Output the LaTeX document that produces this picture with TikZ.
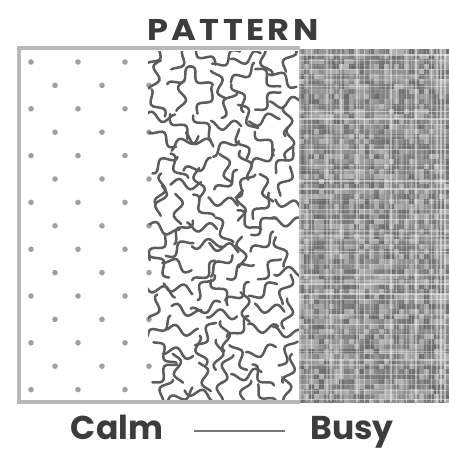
\documentclass[tikz,border=0pt]{standalone}
\usepackage{fontspec}
\setmainfont{Poppins}
\usepackage{tikz}
\usetikzlibrary{positioning,calc}
\usepackage{xcolor}
\definecolor{ink}{HTML}{3C3C3C}
\definecolor{framegray}{HTML}{B8B8B8}
\definecolor{spotgray}{HTML}{A0A0A0}
\definecolor{wormgray}{HTML}{5C5C5C}

\begin{document}
\begin{tikzpicture}[
    x=1pt, y=-1pt,
    frame/.style={draw=framegray, line width=3.5pt},
    spot/.style={fill=spotgray},
    worm/.style={draw=wormgray, line width=2.5pt, line cap=round, line join=round},
    label/.style={text=ink, inner sep=0pt, anchor=base, text height=23pt, text depth=6pt},
    edge/.style={draw=ink!70, line width=2pt}
]
    \useasboundingbox (0,0) rectangle (449,450);

    % Titolo
    \node[label, xscale=1.12, font=\fontsize{30}{30}\selectfont\bfseries\addfontfeature{LetterSpace=10}] (title) at (233,40) {PATTERN};

    % Calmo: punti sfalsati
    \foreach \j in {0,...,14}{
        \pgfmathsetmacro\xo{mod(\j,2)==0 ? 31 : 55}
        \foreach \i in {0,...,2}{
            \fill[spot] (\xo+\i*47, 62+\j*23.4) circle (2.8);
        }
    }

    % Medio: vermicelli
    \pgfmathsetseed{17}
    \begin{scope}
        \clip (148,51) rectangle (300,400);
        \foreach \i in {0,...,6}{
            \foreach \j in {0,...,16}{
                \pgfmathsetmacro\ang{random(0,179)}
                \pgfmathsetmacro\ph{random(0,359)}
                \pgfmathsetmacro\dx{rand*5}
                \pgfmathsetmacro\dy{rand*5}
                \draw[worm, shift={(160+\i*21+\dx, 58+\j*21+\dy)}, rotate=\ang]
                    plot[domain=-15:15, samples=13, smooth] (\x, {4.5*sin(\x*15+\ph)});
            }
        }
    \end{scope}

    % Fitto: trama incrociata
    \pgfmathsetseed{5}
    \begin{scope}
        \clip (299,49) rectangle (449,402);
        \foreach \i in {0,...,29}{
            \foreach \j in {0,...,70}{
                \pgfmathsetmacro\g{random(30,58)}
                \fill[black!\g] (299+\i*5, 49+\j*5) rectangle ++(5.2,5.2);
            }
        }
        \foreach \j in {0,...,70}{
            \pgfmathsetmacro\op{rnd*0.5}
            \pgfmathsetmacro\yy{50+\j*5+rand*1.5}
            \draw[white, opacity=\op, line width=1.4pt] (299, \yy) -- (449, \yy);
        }
        \foreach \i in {0,...,30}{
            \pgfmathsetmacro\op{rnd*0.5}
            \pgfmathsetmacro\xx{301+\i*5+rand*1.5}
            \draw[white, opacity=\op, line width=1.4pt] (\xx, 49) -- (\xx, 402);
        }
    \end{scope}

    % Cornice
    \draw[frame] (300,48) -- (19,48) -- (19,402) -- (300,402);

    % Scala
    \node[label, font=\fontsize{33}{33}\selectfont\bfseries] (calm) at (117,439) {Calm};
    \node[label, font=\fontsize{33}{33}\selectfont\bfseries] (busy) at (352,439) {Busy};
    \draw[edge, shorten <=31pt, shorten >=25pt] (calm.east) -- (busy.west);

\end{tikzpicture}
\end{document}
